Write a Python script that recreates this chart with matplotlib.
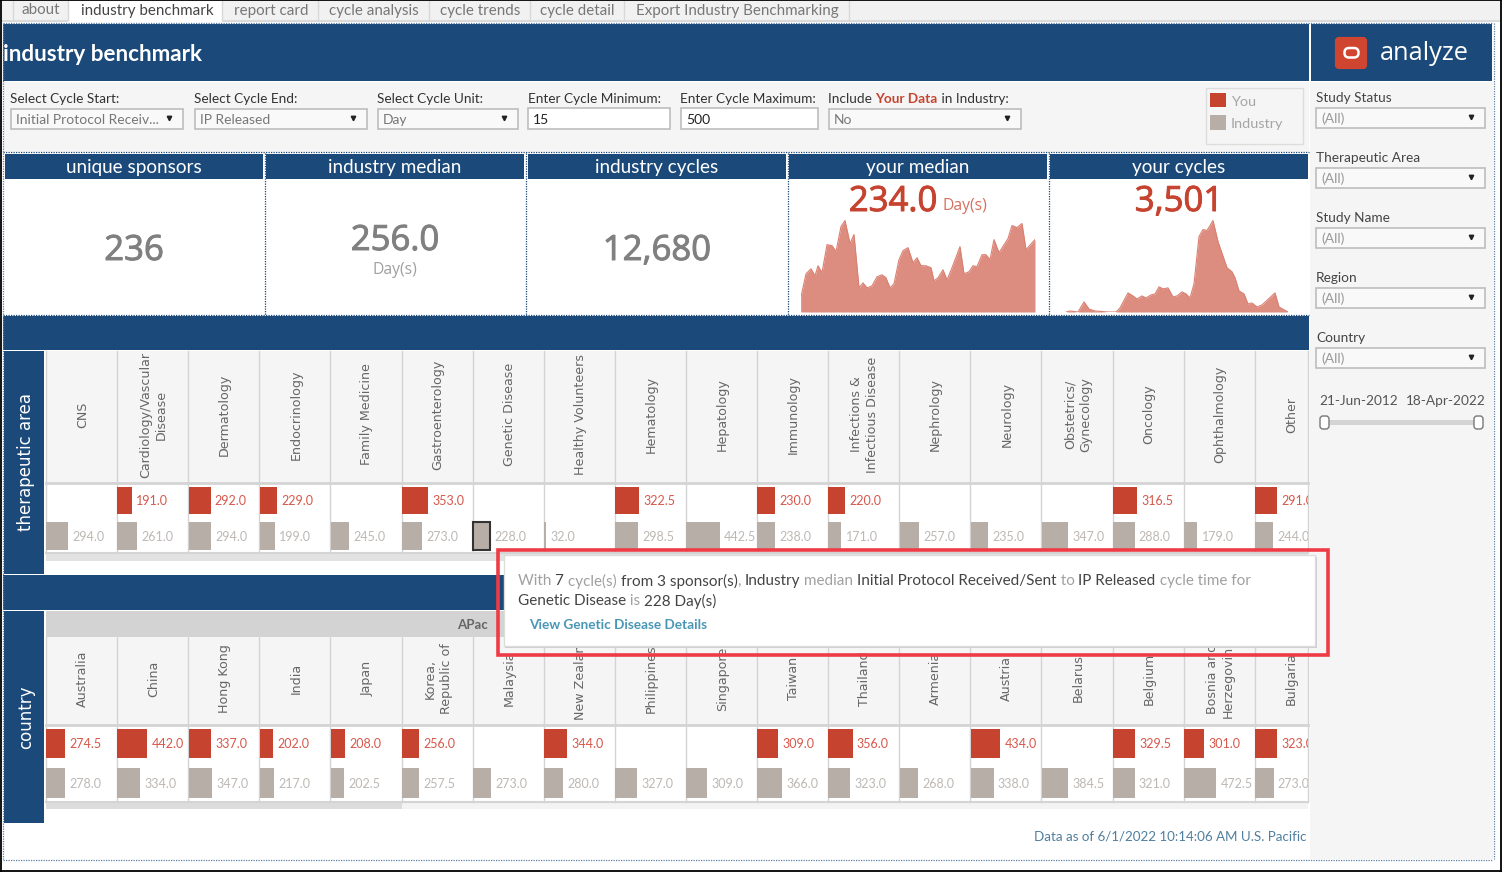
import numpy as np
import matplotlib
matplotlib.use("Agg")
import matplotlib.pyplot as plt
import matplotlib.patheffects as pe
from matplotlib.patches import Rectangle, FancyBboxPatch

# ---------- data ----------
ta_labels = ["CNS", "Cardiology/Vascular\nDisease", "Dermatology", "Endocrinology", "Family Medicine",
             "Gastroenterology", "Genetic Disease", "Healthy Volunteers", "Hematology", "Hepatology",
             "Immunology", "Infections &\nInfectious Disease", "Nephrology", "Neurology",
             "Obstetrics/\nGynecology", "Oncology", "Ophthalmology", "Other"]
ta_you = [np.nan, 191.0, 292.0, 229.0, np.nan, 353.0, np.nan, np.nan, 322.5, np.nan, 230.0, 220.0,
          np.nan, np.nan, np.nan, 316.5, np.nan, 291.0]
ta_industry = [294.0, 261.0, 294.0, 199.0, 245.0, 273.0, 228.0, 32.0, 298.5, 442.5, 238.0, 171.0,
               257.0, 235.0, 347.0, 288.0, 179.0, 244.0]

country_labels = ["Australia", "China", "Hong Kong", "India", "Japan", "Korea,\nRepublic of", "Malaysia",
                  "New Zealand", "Philippines", "Singapore", "Taiwan", "Thailand", "Armenia", "Austria",
                  "Belarus", "Belgium", "Bosnia and\nHerzegovina", "Bulgaria"]
country_you = [274.5, 442.0, 337.0, 202.0, 208.0, 256.0, np.nan, 344.0, np.nan, np.nan, 309.0, 356.0,
               np.nan, 434.0, np.nan, 329.5, 301.0, 323.0]
country_industry = [278.0, 334.0, 347.0, 217.0, 202.5, 257.5, 273.0, 280.0, 327.0, 309.0, 366.0, 323.0,
                    268.0, 338.0, 384.5, 321.0, 472.5, 273.0]

median_t = [0, 0, 5, 10, 14, 17, 21, 26, 31, 35, 40, 44, 49, 53, 58, 62, 66, 71, 76, 81, 85, 89, 93, 98,
            102, 107, 112, 116, 120, 125, 130, 133, 137, 142, 146, 151, 159, 163, 168, 172, 176, 181, 185,
            189, 193, 198, 207, 211, 216, 221, 225, 234]
median_v = [0, 15, 38, 43, 36, 46, 39, 67, 66, 60, 85, 91, 68, 77, 24, 29, 24, 26, 35, 37, 34, 24, 28,
            52, 61, 64, 49, 54, 46, 46, 44, 31, 34, 42, 32, 44, 65, 38, 40, 46, 45, 57, 57, 52, 72, 59,
            73, 86, 84, 88, 62, 72]
cycles_t = [16, 20, 28, 34, 39, 45, 58, 66, 70, 78, 83, 87, 92, 96, 101, 105, 109, 113, 118, 123, 127, 132,
            136, 140, 144, 149, 153, 157, 163, 168, 177, 182, 185, 189, 194, 198, 202, 207, 212, 225, 229, 238]
cycles_v = [0, 1, 0, 10, 3, 1, 0, 0, 4, 19, 16, 13, 16, 14, 17, 18, 25, 23, 24, 15, 16, 20, 18, 14, 28,
            75, 82, 81, 91, 70, 44, 40, 34, 21, 18, 8, 9, 5, 7, 19, 5, 0]

tabs = ["about", "industry benchmark", "report card", "cycle analysis", "cycle trends", "cycle detail",
        "Export Industry Benchmarking"]
kpi_titles = ["unique sponsors", "industry median", "industry cycles", "your median", "your cycles"]
side_filters = ["Study Status", "Therapeutic Area", "Study Name", "Region", "Country"]

# ---------- styles ----------
BLUE = "#1B4A7A"
RED = "#C6442F"
GREY = "#B8AEA8"
PANEL = "#F5F5F5"
LINE = "#D4D4D4"
RED_TXT = "#D8574A"
GREY_TXT = "#BDB8B4"
UI = ["Lato", "DejaVu Sans"]
ROT = ["DejaVu Sans"]
NUM = ["Open Sans"]
W, H = 1502, 872

plt.rcParams["font.family"] = UI
fig = plt.figure(figsize=(W / 100, H / 100), dpi=100, facecolor="white")
bg = fig.add_axes([0, 0, 1, 1], zorder=0)
bg.set_xlim(0, W); bg.set_ylim(H, 0); bg.axis("off")
top = fig.add_axes([0, 0, 1, 1], zorder=5)
top.set_xlim(0, W); top.set_ylim(H, 0); top.axis("off"); top.patch.set_alpha(0)
rend = fig.canvas.get_renderer()


def rect(ax, x0, y0, x1, y1, fc, ec="none", lw=0, z=1):
    ax.add_patch(Rectangle((x0, y0), x1 - x0, y1 - y0, facecolor=fc, edgecolor=ec, linewidth=lw, zorder=z))


def px_axes(x0, y0, x1, y1, z=2):
    a = fig.add_axes([x0 / W, 1 - y1 / H, (x1 - x0) / W, (y1 - y0) / H], zorder=z)
    a.axis("off")
    return a


def rich(ax, x, y, parts, size):
    for s, c, w in parts:
        ax.text(x, y, s, color=c, fontsize=size, fontweight=w, va="center", ha="left", zorder=9)
        a = ax.text(0, 0, "x" + s + "x", fontsize=size, fontweight=w)
        b = ax.text(0, 0, "xx", fontsize=size, fontweight=w)
        x += a.get_window_extent(rend).width - b.get_window_extent(rend).width
        a.remove(); b.remove()
    return x


def dotted(ax, xs, ys, c=BLUE):
    ax.plot(xs, ys, color=c, lw=0.9, ls=(0, (1, 1)), zorder=6)


def dropdown(x0, x1, y0, y1, text, txt_color="#777777", arrow=True, fc="#F9F9F9"):
    rect(bg, x0, y0, x1, y1, fc, "#BDBDBD", 1.2, z=3)
    bg.text(x0 + 5, (y0 + y1) / 2 + 1, text, fontsize=10, color=txt_color, va="center", ha="left", zorder=4)
    if arrow:
        bg.plot([x1 - 14], [(y0 + y1) / 2 - 1], marker="v", ms=3.2, color="#222222", zorder=4)


def big(x, y, s, c):
    bg.text(x, y, s, fontsize=25, color=c, ha="center", va="center", zorder=3, family=NUM,
            path_effects=[pe.withStroke(linewidth=0.7, foreground=c)])


# ---------- chrome ----------
rect(bg, 1, 1, 1500, 20, "#F1F1F1")
rect(bg, 1, 20, 1500, 22, "#DADADA")
rect(bg, 68, 1, 222, 22, "white")
tab_x = [(21, 60), (80, 214), (234, 308), (328, 420), (440, 520), (540, 614), (635, 839)]
for (a, b), t in zip(tab_x, tabs):
    bg.text((a + b) / 2, 10.5, t, fontsize=10.9, color="#444444" if t == "industry benchmark" else "#777777",
            ha="center", va="center", zorder=3)
for sx in [13, 68, 222, 318, 429, 530, 624, 849]:
    bg.plot([sx, sx], [1, 20], color="#D8D8D8", lw=1, zorder=2)

rect(bg, 3, 24, 1309, 81, BLUE)
rect(bg, 1311, 24, 1492, 81, BLUE)
bg.text(3, 54.5, "industry benchmark", fontsize=16.2, fontweight="bold", color="white", va="center", zorder=3)
bg.add_patch(FancyBboxPatch((1337, 39), 28, 28, boxstyle="round,pad=0,rounding_size=2", fc="#CF4530", ec="#CF4530",
                            lw=3, zorder=3))
bg.add_patch(FancyBboxPatch((1344.5, 48), 14, 9.5, boxstyle="round,pad=0,rounding_size=4.5", fc="none", ec="white",
                            lw=1.8, zorder=4))
bg.text(1424.5, 53.5, "analyze", fontsize=18.3, color="white", ha="center", va="center", zorder=3, family=NUM)

rect(bg, 3, 82, 1309, 152, PANEL)
rect(bg, 1310, 82, 1493, 859, PANEL)
for x, t in [(10, "Select Cycle Start:"), (194, "Select Cycle End:"), (377, "Select Cycle Unit:"),
             (528, "Enter Cycle Minimum:"), (680, "Enter Cycle Maximum:")]:
    bg.text(x, 99, t, fontsize=9.85, color="#333333", va="center", zorder=3)
rich(bg, 828, 99, [("Include ", "#333333", "normal"), ("Your Data", "#C6442F", "bold"),
                   (" in Industry:", "#333333", "normal")], 9.85)
dropdown(11, 183, 109, 129, "Initial Protocol Receiv...")
dropdown(195, 367, 109, 129, "IP Released")
dropdown(378, 518, 109, 129, "Day")
dropdown(528, 670, 108, 129, "15", "#222222", False, "white")
dropdown(681, 818, 108, 129, "500", "#222222", False, "white")
dropdown(829, 1021, 109, 129, "No")

rect(bg, 1206, 88, 1303, 144, PANEL, "#DDDDDD", 1, z=2)
rect(bg, 1210, 93, 1226, 107, RED, z=3)
rect(bg, 1210, 115, 1226, 130, GREY, z=3)
bg.text(1231, 102, "You", fontsize=10.4, color="#A5A5A5", va="center", zorder=3)
bg.text(1231, 124, "Industry", fontsize=10.4, color="#A5A5A5", va="center", zorder=3)

for i, t in enumerate(side_filters):
    y = 97 + 60 * i
    bg.text(1316, y + 1, t, fontsize=9.85, color="#444444", va="center", zorder=3)
    dropdown(1316, 1485, y + 11, y + 31, "(All)", "#999999")
bg.text(1319, 401, "21-Jun-2012", fontsize=9.8, color="#555555", va="center", zorder=3)
bg.text(1406, 401, "18-Apr-2022", fontsize=9.8, color="#555555", va="center", zorder=3)
rect(bg, 1325, 420, 1479, 425, "#D4D4D4", z=3)
for hx in (1320, 1474):
    bg.add_patch(FancyBboxPatch((hx, 416), 9, 13, boxstyle="round,pad=0,rounding_size=3", fc="white", ec="#777777",
                                lw=1, zorder=4))

# KPI cards
cards = [(5, 263), (266, 524), (528, 786), (789, 1047), (1050, 1308)]
rect(bg, 3, 152, 1309, 316, "white")
for (a, b), t in zip(cards, kpi_titles):
    rect(bg, a, 154, b, 179, BLUE, z=2)
    bg.text((a + b) / 2, 168, t, fontsize=13.6, color="white", ha="center", va="center", zorder=3)
for sx in (264.5, 526, 787.5, 1048.5):
    dotted(bg, [sx, sx], [153, 315])
dotted(bg, [3, 1309], [152.5, 152.5])
dotted(bg, [3, 1309], [315.5, 315.5])
big(134, 251, "236", "#808080")
big(395, 241, "256.0", "#808080")
bg.text(395, 270, "Day(s)", fontsize=11.3, color="#A0A0A0", ha="center", va="center", zorder=3, family=NUM)
big(657, 251, "12,680", "#808080")
big(893, 202, "234.0", RED)
bg.text(965, 206, "Day(s)", fontsize=11.3, color="#D8705F", ha="center", va="center", zorder=3, family=NUM)
big(1179, 202, "3,501", RED)

# sparklines
for (x0, x1, t, v) in [(801, 1035, median_t, median_v), (1066, 1288, cycles_t, cycles_v)]:
    a = px_axes(x0, 220, x1, 312, z=3)
    t = np.array(t, float)
    a.fill_between(t, 0, v, color="#DD8D80", lw=0)
    a.plot(t, v, color="#D98072", lw=0.8)
    a.set_xlim(t.min(), t.max())
    a.set_ylim(0, 91.5)

# bands
rect(bg, 3, 316, 1309, 350, BLUE)
rect(bg, 3, 575, 1309, 610, BLUE)
rect(bg, 4, 351, 44, 574, BLUE)
rect(bg, 4, 611, 44, 823, BLUE)
bg.text(26, 462, "therapeutic area", rotation=90, fontsize=12, color="white", ha="center", va="center",
        zorder=3, family=ROT)
bg.text(26, 717, "country", rotation=90, fontsize=12, color="white", ha="center", va="center", zorder=3, family=ROT)

COL = 71.1
PX0, PX1 = 46, 1308


def panel(labels, you, ind, hy0, hy1, ry0, ry1, cy_you, cy_ind, bh_px, scale, highlight=None):
    rect(bg, PX0, hy0, PX1, hy1, PANEL)
    for i, t in enumerate(labels):
        bg.text(PX0 + COL * (i + 0.5) + 1, (hy0 + hy1) / 2 - 2.5, t, rotation=90, fontsize=9.1, color="#666666",
                ha="center", va="center", ma="center", family=ROT, zorder=3, linespacing=1.3)
    for i in range(19):
        x = min(PX0 + COL * i, PX1)
        bg.plot([x, x], [hy0, ry1], color=LINE, lw=1, zorder=2)
    bg.plot([PX0, PX1], [hy1, hy1], color=LINE, lw=2, zorder=2)
    bg.plot([PX0, PX1], [ry1, ry1], color=LINE, lw=1.5, zorder=2)

    a = px_axes(PX0, ry0, PX1, ry1, z=2)
    unit = cy_ind - cy_you
    a.set_ylim(1 + (ry1 - cy_ind) / unit, -(cy_you - ry0) / unit)
    col_days = COL / scale
    a.set_xlim(0, (PX1 - PX0) / scale)
    lefts = np.arange(len(labels)) * col_days + 0.3 / scale
    a.barh(np.zeros(len(you)), you, left=lefts, height=bh_px / unit, color=RED, lw=0)
    edges = ["#333333" if i == highlight else "none" for i in range(len(ind))]
    widths = [1.5 if i == highlight else 0 for i in range(len(ind))]
    a.barh(np.ones(len(ind)), ind, left=lefts, height=bh_px / unit, color=GREY, edgecolor=edges, linewidth=widths)
    for row, vals, col in [(0, you, RED_TXT), (1, ind, GREY_TXT)]:
        for l, v in zip(lefts, vals):
            if not np.isnan(v):
                a.annotate(f"{v:.1f}", (l + v, row), xytext=(4.3 * 0.72, -0.7), textcoords="offset points",
                           fontsize=9, color=col, va="center", ha="left", annotation_clip=False, clip_on=True)


panel(ta_labels, ta_you, ta_industry, 351, 483, 484, 553, 500.5, 536, 27.5, 0.0755, highlight=6)
rect(bg, PX0, 554, PX1, 561, "#E2E2E2")

rect(bg, PX0, 611, PX1, 637, "#D3D3D3")
bg.text(488, 625, "APac", fontsize=9.5, fontweight="bold", color="#666666", ha="right", va="center", zorder=3)
panel(country_labels, country_you, country_industry, 637, 725, 726, 802, 743.5, 783, 29.5, 0.068)
rect(bg, PX0, 803, PX1, 809, "#F3F3F3")
rect(bg, PX0, 803, 402, 809, "#DCDCDC", z=2)

bg.text(1306, 836.5, "Data as of 6/1/2022 10:14:06 AM U.S. Pacific", fontsize=9.6, color="#4F7F9F", ha="right",
        va="center", zorder=3)

# outer frame
dotted(bg, [3, 1493], [23, 23], "#5B7FA3")
dotted(bg, [2.5, 2.5], [23, 859], "#5B7FA3")
dotted(bg, [3, 1493], [859.5, 859.5], "#5B7FA3")
dotted(bg, [1493.5, 1493.5], [23, 859], "#5B7FA3")
for xs, ys in [([0, W], [0.5, 0.5]), ([0.5, 0.5], [0, H]), ([0, W], [870.5, 870.5]), ([1500.5, 1500.5], [0, H])]:
    bg.plot(xs, ys, color="black", lw=1.3, zorder=7)

# tooltip
rect(top, 498, 550, 1328, 654.5, "none", "#EE3B45", 2.6, z=2)
rect(top, 505, 557, 1317, 648, "#CCCCCC", z=3)
rect(top, 504, 555, 1315, 646, "white", "#DDDDDD", 1, z=4)
D, G = "#444444", "#A0A0A0"
rich(top, 518, 581, [("With ", G, "normal"), ("7 ", D, "normal"), ("cycle(s) ", G, "normal"),
                     ("from 3 sponsor(s)", D, "normal"), (", ", G, "normal"), ("Industry", D, "normal"),
                     (" median ", G, "normal"), ("Initial Protocol Received/Sent", D, "normal"),
                     (" to ", G, "normal"), ("IP Released", D, "normal"), (" cycle time for", G, "normal")], 10.95)
rich(top, 518, 601, [("Genetic Disease", D, "normal"), (" is ", G, "normal"), ("228 Day(s)", D, "normal")], 10.95)
top.text(529, 625, "View Genetic Disease Details", fontsize=9.8, fontweight="bold", color="#4A97B5", va="center",
         zorder=9)

fig.savefig("out.png", dpi=100, facecolor="white")
